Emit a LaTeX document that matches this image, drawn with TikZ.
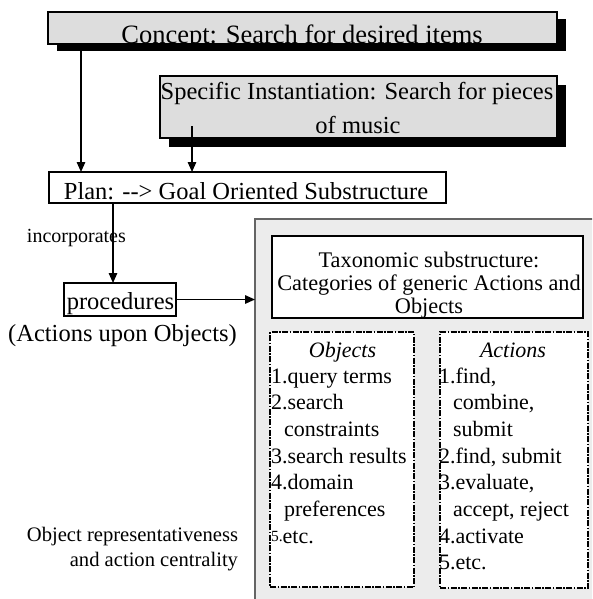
\documentclass[tikz,border=0pt]{standalone}
\usepackage{fontspec}
\setmainfont{Liberation Serif}
\usetikzlibrary{arrows.meta,shadows,calc}
\definecolor{boxgray}{RGB}{221,221,221}
\definecolor{panelgray}{RGB}{236,236,236}
\definecolor{panelline}{RGB}{100,100,100}
\begin{document}
\begin{tikzpicture}[x=1pt,y=-1pt,
  every node/.style={inner sep=0pt,outer sep=0pt},
  shadowbox/.style={draw=black,line width=1.2pt,fill=boxgray},
  plainbox/.style={draw=black,line width=1.3pt,fill=white},
  listbox/.style={draw=black,line width=1.3pt,fill=white,
    dash pattern=on 6pt off 1.5pt on 1.5pt off 1.5pt},
  lbl/.style={anchor=base},
  item/.style={anchor=base west,font=\fontsize{22}{26}\selectfont},
  arr/.style={line width=1.5pt,-{Triangle[length=10pt,width=8.5pt]}},
]
\clip (0,0) rectangle (592,599);
\fill[white] (0,0) rectangle (592,599);

% grey panel holding the taxonomy
\node[draw=panelline,line width=1.5pt,fill=panelgray,minimum width=360pt,
  minimum height=400pt,anchor=north west] (panel) at (255,219) {};

% concept and instantiation
\node[shadowbox,minimum width=509pt,minimum height=32pt,
  drop shadow={shadow xshift=9pt,shadow yshift=-7pt,fill=black,opacity=1}]
  (concept) at (302.5,28) {};
\node[lbl,font=\fontsize{26.5}{30}\selectfont] (concepttxt) at (302,43.5)
  {Concept: Search for desired items};

\node[shadowbox,minimum width=397pt,minimum height=62pt,
  drop shadow={shadow xshift=9pt,shadow yshift=-9pt,fill=black,opacity=1}]
  (specific) at (358.5,107) {};
\node[lbl,font=\fontsize{24.5}{28}\selectfont] (spectxta) at (357,100)
  {Specific Instantiation: Search for pieces};
\node[lbl,font=\fontsize{24.5}{28}\selectfont] (spectxtb) at (358,133)
  {of music};

% plan
\node[plainbox,minimum width=397pt,minimum height=31pt] (plan) at (247.5,187.5) {};
\node[lbl,font=\fontsize{24.5}{28}\selectfont] (plantxt) at (246,199)
  {Plan: {-}{-}> Goal Oriented Substructure};

% procedures
\node[plainbox,minimum width=112pt,minimum height=33pt] (procs) at (120,299.5) {};
\node[lbl,font=\fontsize{24.5}{28}\selectfont] (procstxt) at (120.5,309) {procedures};
\node[lbl,font=\fontsize{24.5}{28}\selectfont] (procsnote) at (122.5,341)
  {(Actions upon Objects)};

\node[anchor=base west,font=\fontsize{20}{24}\selectfont] (incorp) at (27,242)
  {incorporates};

% taxonomy header
\node[plainbox,minimum width=311pt,minimum height=82pt] (taxo) at (427.5,277) {};
\foreach \t [count=\i] in {Taxonomic substructure:,
    Categories of generic Actions and, Objects}
  \node[lbl,font=\fontsize{22.3}{24}\selectfont] (taxo\i) at (429,{244+23.2*\i}) {\t};

% object and action lists
\node[listbox,minimum width=144pt,minimum height=255pt] (objs) at (342,459.5) {};
\node[listbox,minimum width=148pt,minimum height=256pt] (acts) at (514,460) {};

\node[lbl,font=\fontsize{22}{26}\selectfont\itshape] (objstitle) at (342.5,357) {Objects};
\node[lbl,font=\fontsize{22}{26}\selectfont\itshape] (actstitle) at (513,357) {Actions};

\foreach \t [count=\i] in {1.query terms, 2.search, \hspace*{13pt}constraints,
    3.search results, 4.domain, \hspace*{13pt}preferences,
    {\raisebox{2pt}{\fontsize{15.5}{16}\selectfont 5.}etc.}}
  \node[item] (obj\i) at (271,{356.6+26.67*\i}) {\t};

\foreach \t [count=\i] in {{1.find,}, {\hspace*{14pt}combine,}, \hspace*{14pt}submit,
    {2.find, submit}, {3.evaluate,}, {\hspace*{14pt}accept, reject},
    4.activate, 5.etc.}
  \node[item] (act\i) at (439,{356.6+26.67*\i}) {\t};

% measure note
\node[anchor=base east,font=\fontsize{20.6}{24}\selectfont] (repa) at (238,541)
  {Object representativeness};
\node[anchor=base east,font=\fontsize{20.6}{24}\selectfont] (repb) at (238,566)
  {and action centrality};

% connectors
\coordinate (xa) at (81,0);
\coordinate (sa) at (192,126);
\coordinate (xc) at (113,0);
\draw[arr] (concept.south -| xa) -- (plan.north -| xa);
\draw[arr] (sa) -- (sa |- plan.north);
\draw[arr] (plan.south -| xc) -- (procs.north -| xc);
\draw[arr] (procs.east) -- (procs.east -| panel.west);
\end{tikzpicture}
\end{document}
